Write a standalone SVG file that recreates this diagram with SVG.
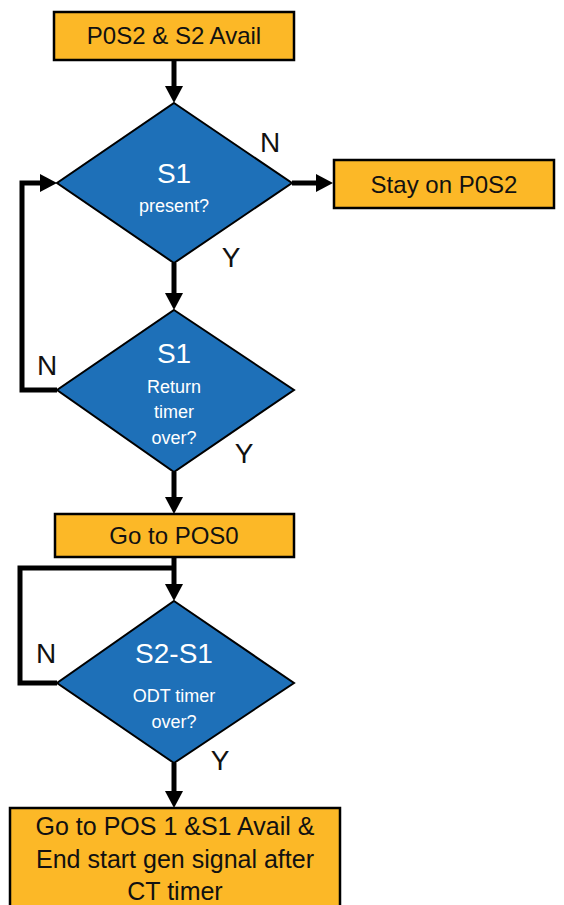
<svg xmlns="http://www.w3.org/2000/svg" width="564" height="905" viewBox="0 0 564 905">
<style>
.box{fill:#FCB827;stroke:#000;stroke-width:2.5}
.dia{fill:#1E70B8;stroke:#000;stroke-width:2}
.bt{font-family:"Liberation Sans",Arial,sans-serif;font-size:24px;fill:#111;text-anchor:middle}
.dt{font-family:"Liberation Sans",Arial,sans-serif;font-size:28px;fill:#fff;text-anchor:middle}
.ds{font-family:"Liberation Sans",Arial,sans-serif;font-size:18px;fill:#fff;text-anchor:middle}
.lb{font-family:"Liberation Sans",Arial,sans-serif;font-size:28px;fill:#111;text-anchor:middle}
.con{fill:none;stroke:#000;stroke-width:5;stroke-linejoin:miter}
</style>
<defs>
<marker id="ah" markerUnits="userSpaceOnUse" viewBox="0 0 17 18" markerWidth="17" markerHeight="18" refX="7" refY="9" orient="auto">
<path d="M0,0 L17,9 L0,18 z" fill="#000"/>
</marker>
</defs>
<g id="connectors">
<path class="con" d="M174,60 V93" marker-end="url(#ah)"/>
<path class="con" d="M292,183 H323" marker-end="url(#ah)"/>
<path class="con" d="M174,263 V300" marker-end="url(#ah)"/>
<path class="con" d="M57,390 H22 V183 H47" marker-end="url(#ah)"/>
<path class="con" d="M174,472 V504" marker-end="url(#ah)"/>
<path class="con" d="M174,557 V591" marker-end="url(#ah)"/>
<path class="con" d="M57,683 H20 V568 H176"/>
<path class="con" d="M174,763 V798" marker-end="url(#ah)"/>
</g>
<g id="start">
<rect class="box" x="54" y="12" width="240" height="48"/>
<text class="bt" x="174" y="44">P0S2 &amp; S2 Avail</text>
</g>
<g id="d1">
<polygon class="dia" points="174,103 292,183 174,263 57,183"/>
<text class="dt" x="174" y="183">S1</text>
<text class="ds" x="174" y="212">present?</text>
<text class="lb" x="270" y="152">N</text>
<text class="lb" x="231" y="267">Y</text>
</g>
<g id="stay">
<rect class="box" x="334" y="160" width="220" height="48"/>
<text class="bt" x="444" y="193">Stay on P0S2</text>
</g>
<g id="d2">
<polygon class="dia" points="174,310 294,390 174,472 57,390"/>
<text class="dt" x="174" y="363">S1</text>
<text class="ds" x="174" y="393">Return</text>
<text class="ds" x="174" y="418">timer</text>
<text class="ds" x="174" y="444">over?</text>
<text class="lb" x="47" y="375">N</text>
<text class="lb" x="244" y="463">Y</text>
</g>
<g id="pos0">
<rect class="box" x="55" y="514" width="239" height="43"/>
<text class="bt" x="174" y="544">Go to POS0</text>
</g>
<g id="d3">
<polygon class="dia" points="174,601 294,683 174,763 57,683"/>
<text class="dt" x="174" y="663">S2-S1</text>
<text class="ds" x="174" y="702">ODT timer</text>
<text class="ds" x="174" y="728">over?</text>
<text class="lb" x="46" y="663">N</text>
<text class="lb" x="220" y="770">Y</text>
</g>
<g id="end">
<rect class="box" x="10" y="808" width="330" height="110"/>
<text class="bt" x="175" y="835" style="font-size:25px">Go to POS 1 &amp;S1 Avail &amp;</text>
<text class="bt" x="175" y="868" style="font-size:25px">End start gen signal after</text>
<text class="bt" x="175" y="900" style="font-size:25px">CT timer</text>
</g>
</svg>
